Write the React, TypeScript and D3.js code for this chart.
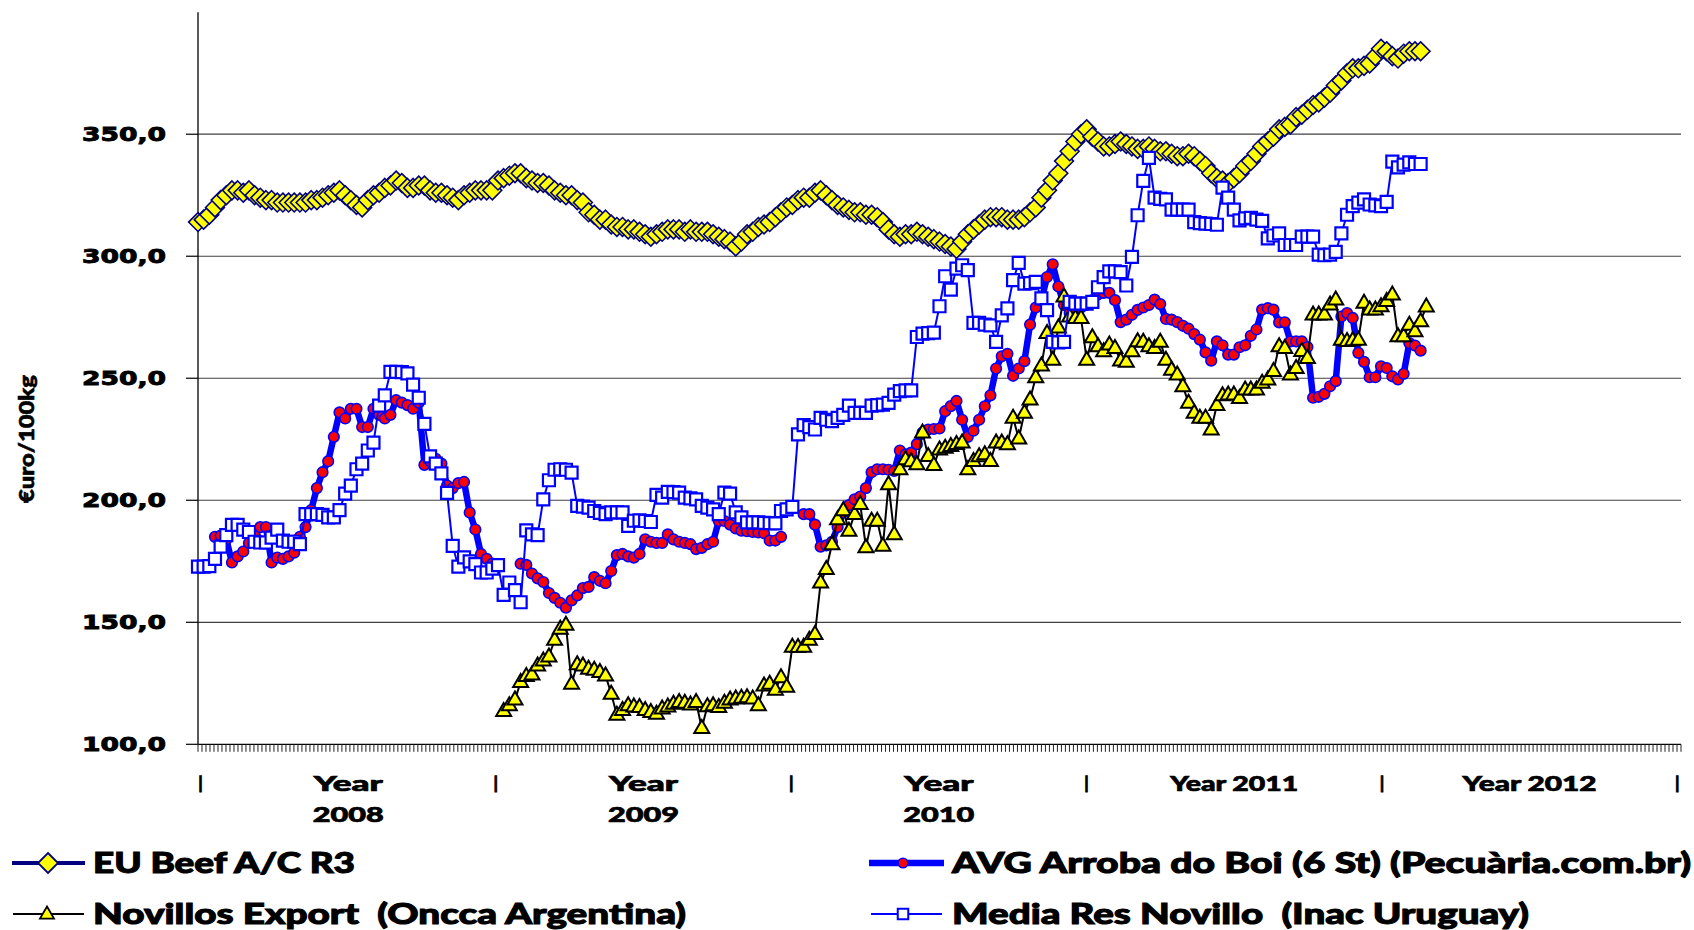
import React from "react";
import * as d3 from "d3";

const WIDTH = 1694;
const HEIGHT = 930;

// ---- axis texts ----
const yTickValues = [100, 150, 200, 250, 300, 350];
const yTickLabels = ["100,0", "150,0", "200,0", "250,0", "300,0", "350,0"];
const yAxisTitle = "€uro/100kg";
const weeksPerYear = 52.18;
const yearLabelLines = [["Year", "2008"], ["Year", "2009"], ["Year", "2010"], ["Year 2011"], ["Year 2012"]];

// ---- series names ----
const seriesNames = [
  "EU Beef A/C R3",
  "AVG Arroba do Boi (6 St) (Pecuària.com.br)",
  "Novillos Export  (Oncca Argentina)",
  "Media Res Novillo  (Inac Uruguay)",
];

// ---- data: weekly values, index 0 = first week of 2008 ----
const euStart = 0;
const euBeef = [
  314, 315, 317, 320, 323, 325, 327, 327, 326, 327,
  325, 324, 323, 323, 322, 322, 322, 322, 322, 322,
  323, 323, 324, 325, 326, 327, 325, 323, 321, 320,
  323, 325, 326, 328, 329, 331, 330, 328, 328, 329,
  329, 327, 326, 326, 325, 324, 323, 325, 326, 327,
  327, 327, 327, 331, 332, 333, 334, 334, 332, 331,
  330, 330, 329, 327, 326, 325, 325, 323, 322, 318,
  317, 315, 315, 313, 312, 312, 311, 311, 310, 309,
  308, 309, 310, 311, 311, 311, 310, 311, 310, 310,
  310, 309, 308, 307, 306, 304, 306, 309, 310, 312,
  313, 314, 316, 318, 320, 321, 323, 324, 324, 326,
  327, 325, 323, 321, 320, 319, 318, 318, 317, 317,
  316, 314, 311, 309, 308, 309, 309, 310, 309, 308,
  307, 306, 305, 304, 303, 306, 309, 311, 313, 315,
  316, 316, 316, 315, 315, 315, 316, 318, 320, 324,
  327, 331, 334, 339, 343, 347, 350, 352, 349, 347,
  345, 345, 346, 347, 346, 345, 344, 344, 345, 344,
  343, 343, 342, 341, 341, 342, 341, 339, 337, 334,
  332, 331, 330, 332, 334, 337, 339, 342, 345, 347,
  349, 352, 353, 354, 357, 358, 360, 362, 363, 365,
  367, 370, 372, 375, 377, 377, 378, 379, 382, 385,
  384, 382, 381, 383, 384, 384, 384,
];

const avgStart = 3;
const avgBoi: (number | null)[] = [
  185, 185.5, 184, 174.5, 177, 179, 182.5,
  186, 189, 189, 174.5, 176.5, 176, 177, 178.5, 185, 189,
  196, 205, 211.5, 216, 226, 236, 233.5, 237.5, 237.5, 230,
  230, 237.5, 235, 233.5, 235, 241, 240, 239, 237.5, 240,
  214.5, 216, 217, 215, 206, 205, 207, 207.5, 195, 188,
  178, 176, 174,
  null, null, null, null,
  174, 173.5, 170,
  168, 166.5, 162, 160, 158, 156, 159, 161, 164, 164.5,
  168.5, 167, 166, 171, 177.5, 178, 177, 176.5, 178, 184,
  183, 182.5, 182.5, 186, 184, 183, 182.5, 182, 180, 180.5,
  182, 183, 191.5, 191.5, 190, 188.5, 187.5, 187.3, 187, 186.8,
  186.5, 183.5, 183.5, 185,
  null, null, null,
  194.3, 194.3, 190,
  181, 181.5, 183, 189, 195, 198, 200.4, 201.5, 205, 211.5,
  212.7, 212.7, 212.5, 212, 220.4, 218.8, 219.5, 223, 227.7, 229,
  229.2, 229.4, 236.5, 238.6, 240.7, 233, 226, 228.5, 233, 238.5,
  243, 254, 259, 260, 251, 254, 257, 272, 279, 282,
  291.5, 296.7, 287.6, 280, 276.7, 277.5, 279, 280.2, 282, 284.3,
  285, 285, 282, 273, 274, 276, 278, 279, 280, 282.2,
  280.4, 274.3, 274, 273, 271.5, 270.3, 268.1, 265.8, 260.6, 257.2,
  265.1, 263.5, 259.7, 259.7, 262.7, 263.5, 267.4, 270, 278.1, 278.7,
  278.1, 272.9, 272.9, 265.1, 265.1, 265.1, 262.8, 242, 242.4, 243.6,
  246.7, 248.8, 275.3, 276.7, 274.7, 260.4, 256.7, 250.4, 250.4, 254.9,
  254.2, 250.8, 249.5, 251.8, 264.4, 263.4, 261.3,
];

const novStart = 54;
const novillosArg = [
  113.6, 116, 118.3, 125.5, 128, 128.6,
  132.3, 134.3, 136, 142.8, 147.3, 149, 124.8, 132.8, 132.3, 130.9,
  130.5, 129.6, 128.2, 120.7, 112.1, 114, 116, 115.5, 115.3, 114,
  113.2, 112.5, 114.6, 115.5, 116.6, 117.3, 117, 116.3, 117.3, 106.7,
  115.6, 116, 115.3, 117, 118.3, 118.7, 119, 119.3, 118.7, 116,
  124.1, 124.8, 122.3, 127.5, 123.6, 140, 139.8, 140, 142.8, 145.2,
  166.3, 171.8, 182, 192.2, 195.9, 187.5, 194.3, 198.4, 180.7, 191.6,
  191.6, 181.3, 206.5, 186.1, 212.7, 216.8, 216, 214.7, 227.7, 218.1,
  214.4, 220.8, 221.5, 222.2, 223, 223.6, 212.7, 216.1, 218, 218.8,
  216.1, 223.6, 223.6, 222.9, 233.8, 225.3, 235.8, 241.3, 250.4, 255.2,
  268.5, 257.6, 270.8, 283.5, 275.3, 274.7, 274.7, 257.6, 266.8, 263.1,
  261, 263.8, 262.4, 257.2, 256.7, 261, 265.1, 264.9, 263.1, 262.4,
  264.9, 257.6, 253.5, 251.5, 246.7, 239.9, 235.8, 233.8, 233.8, 229,
  239, 243, 243.3, 243.3, 241.9, 245.4, 245.4, 245.4, 248.1, 249.5,
  252.9, 263.1, 262.4, 251.5, 254.2, 261.1, 258.3, 276.1, 276.1, 276.1,
  280.2, 282.2, 265.8, 265.2, 265.5, 265.8, 280.9, 278.1, 278.1, 279.5,
  281.6, 284.3, 267.2, 267.2, 271.9, 269.2, 273.3, 279.4,
];

const mediaStart = 0;
const mediaRes = [
  172.8, 172.8, 173, 176, 181, 185.7, 189.9, 189.9, 188, 187,
  183, 182.7, 182.7, 184.7, 188, 183.5, 183, 183, 182, 194.3,
  194.3, 194.3, 194, 193, 193, 196, 202.7, 206, 212.7, 215,
  220.4, 223.6, 238.8, 243, 252.6, 252.6, 252.5, 252, 247.4, 242,
  231.3, 218, 215, 211, 203, 181.3, 172.8, 176.6, 175, 173.8,
  170.4, 170.4, 172, 173.4, 161.2, 166.3, 163.2, 158.2, 187.7, 186,
  185.7, 200.4, 208.2, 212.5, 212.7, 212.5, 211.3, 197.7, 197.4, 197,
  195.6, 194.8, 194.3, 195, 195, 195, 189.5, 191.6, 191.8, 191.5,
  191.1, 202.2, 201.1, 203.4, 203.3, 203.1, 201.1, 200.8, 200.4, 197.7,
  197, 196.3, 194.3, 203.1, 202.7, 195, 193, 190.9, 190.9, 190.9,
  190.7, 190.6, 190.5, 195.6, 196.3, 197.3, 227, 230.8, 230, 229,
  233.8, 233, 232.4, 233.8, 235, 238.8, 235.8, 235.8, 235.8, 238.8,
  239, 239.2, 239.9, 243.3, 244.7, 245, 245, 266.9, 268.3, 268.5,
  268.7, 279.5, 291.8, 286.3, 294.9, 296.3, 294.3, 272.7, 272.7, 272,
  271.7, 264.9, 275.8, 278.6, 290.2, 297.3, 288.8, 289, 289.5, 282.7,
  277.9, 264.9, 264.7, 264.9, 281.3, 280.6, 280.6, 280.6, 281.3, 287.3,
  291.4, 293.8, 293.8, 293.5, 288, 299.7, 316.8, 330.9, 340.3, 324,
  323.5, 323.3, 319.1, 319.1, 319.1, 319.1, 314, 313.6, 313.4, 313.2,
  312.9, 328.1, 324, 319.1, 314.7, 315.5, 315.7, 315, 314.5, 307.3,
  308.5, 309.4, 304.6, 304.6, 304.6, 308, 308, 308, 300.7, 300.4,
  300.7, 301.8, 309.4, 317, 320.5, 322, 323.3, 321.2, 320.8, 320.5,
  322.3, 338.8, 336.4, 337.5, 338.5, 337.8, 337.8,
];

// ---- layout ----
const PLOT = { left: 198, right: 1681, top: 12.2, bottom: 744.3 };
const TOTAL_WEEKS = 262;
const LABEL_FONT = "Lato, 'Open Sans', 'DejaVu Sans', sans-serif";
const TICK_FONT = "'DejaVu Sans', Verdana, sans-serif";

type Pt = { i: number; v: number | null };
const toPts = (start: number, vals: (number | null)[]): Pt[] => vals.map((v, k) => ({ i: start + k, v }));

const diamondPath = (r: number) => `M0,${-r}L${r},0L0,${r}L${-r},0Z`;
const trianglePath = (w: number, h: number) => `M0,${-h * 0.62}L${w / 2},${h * 0.38}L${-w / 2},${h * 0.38}Z`;
const squarePath = (s: number) => `M${-s / 2},${-s / 2}h${s}v${s}h${-s}Z`;

export default function App() {
  const x = d3.scaleLinear().domain([0, TOTAL_WEEKS]).range([PLOT.left, PLOT.right]);
  const y = d3.scaleLinear().domain([100, 400]).range([PLOT.bottom, PLOT.top]);

  const line = d3
    .line<Pt>()
    .defined((d) => d.v !== null)
    .x((d) => x(d.i))
    .y((d) => y(d.v as number));

  const eu = toPts(euStart, euBeef);
  const avg = toPts(avgStart, avgBoi);
  const nov = toPts(novStart, novillosArg);
  const med = toPts(mediaStart, mediaRes);

  const nMinor = 371;
  const minorTicks = d3.range(0, nMinor + 1).map((k) => PLOT.left + (k * (PLOT.right - PLOT.left)) / nMinor);

  const yearBounds = d3.range(0, 6).map((k) => x(k * weeksPerYear) + 2.5);
  const yearLabelLen: Record<string, number> = { Year: 69, "2008": 71, "2009": 71, "2010": 71, "Year 2011": 128, "Year 2012": 134 };

  const legendItems = [
    { name: seriesNames[0], lx1: 12, lx2: 85, mx: 48, cy: 863, tx: 93, tl: 262, kind: "eu" },
    { name: seriesNames[1], lx1: 869, lx2: 944, mx: 903, cy: 863, tx: 952, tl: 739, kind: "avg" },
    { name: seriesNames[2], lx1: 13, lx2: 84, mx: 47, cy: 914, tx: 93, tl: 593, kind: "nov" },
    { name: seriesNames[3], lx1: 871, lx2: 942, mx: 903, cy: 914, tx: 952, tl: 577, kind: "med" },
  ];

  const defined = (p: Pt[]) => p.filter((d) => d.v !== null);
  const heavy = { stroke: "#000", strokeWidth: 0.9, paintOrder: "stroke" as const };

  return (
    <svg
      width={WIDTH}
      height={HEIGHT}
      viewBox={`0 0 ${WIDTH} ${HEIGHT}`}
      style={{ position: "absolute", left: 0, top: 0, background: "#fff", display: "block" }}
    >
      <rect x={0} y={0} width={WIDTH} height={HEIGHT} fill="#fff" />
      {/* gridlines */}
      {yTickValues.slice(1).map((v) => (
        <line key={`g${v}`} x1={PLOT.left} x2={PLOT.right} y1={y(v)} y2={y(v)} stroke="#404040" strokeWidth={1.2} />
      ))}
      {/* y axis */}
      <line x1={PLOT.left} x2={PLOT.left} y1={PLOT.top} y2={PLOT.bottom} stroke="#000" strokeWidth={1.3} />
      {yTickValues.map((v, k) => (
        <g key={`yt${v}`}>
          <line x1={PLOT.left - 12} x2={PLOT.left} y1={y(v)} y2={y(v)} stroke="#000" strokeWidth={1.2} />
          <text
            x={82}
            y={y(v) + 7}
            fontFamily={TICK_FONT}
            fontWeight="bold"
            fontSize={19.5}
            textLength={84}
            lengthAdjust="spacingAndGlyphs"
            fill="#000"
            {...heavy}
          >
            {yTickLabels[k]}
          </text>
        </g>
      ))}
      <g transform={`translate(34,503) rotate(-90)`}>
        <text x={0} y={0} fontFamily={LABEL_FONT} fontWeight={900} fontSize={21} textLength={128} lengthAdjust="spacingAndGlyphs" fill="#000" stroke="#000" strokeWidth={0.6}>
          {yAxisTitle}
        </text>
      </g>
      {/* x axis */}
      <line x1={PLOT.left} x2={PLOT.right} y1={PLOT.bottom} y2={PLOT.bottom} stroke="#000" strokeWidth={1.3} />
      {minorTicks.map((tx, k) => (
        <line key={`mt${k}`} x1={tx} x2={tx} y1={PLOT.bottom} y2={PLOT.bottom + 7.5} stroke="#222" strokeWidth={1} />
      ))}
      {yearBounds.map((bx, k) => (
        <text key={`yb${k}`} x={bx} y={789} fontFamily={LABEL_FONT} fontWeight={900} fontSize={17} textAnchor="middle" fill="#000" stroke="#000" strokeWidth={0.8}>
          |
        </text>
      ))}
      {yearLabelLines.map((lines, k) => {
        const cx = (yearBounds[k] + yearBounds[k + 1]) / 2;
        return lines.map((t, j) => {
          const len = yearLabelLen[t] ?? 70;
          return (
            <text
              key={`yl${k}-${j}`}
              x={cx - len / 2}
              y={791 + j * 31}
              fontFamily={LABEL_FONT}
              fontWeight={900}
              fontSize={21}
              textLength={len}
              lengthAdjust="spacingAndGlyphs"
              fill="#000"
              stroke="#000"
              strokeWidth={0.7}
            >
              {t}
            </text>
          );
        });
      })}

      {/* EU Beef */}
      <path d={line(eu) || ""} fill="none" stroke="#000080" strokeWidth={2.5} />
      {defined(eu).map((d) => (
        <path key={`eu${d.i}`} d={diamondPath(9.4)} transform={`translate(${x(d.i)},${y(d.v as number)})`} fill="#FFFF00" stroke="#000080" strokeWidth={1.6} />
      ))}

      {/* AVG Arroba do Boi */}
      <path d={line(avg) || ""} fill="none" stroke="#0000FF" strokeWidth={6.5} strokeLinejoin="round" />
      {defined(avg).map((d) => (
        <circle key={`avg${d.i}`} cx={x(d.i)} cy={y(d.v as number)} r={5.3} fill="#FF0000" stroke="#0000FF" strokeWidth={1.6} />
      ))}

      {/* Novillos Export */}
      <path d={line(nov) || ""} fill="none" stroke="#000000" strokeWidth={2} />
      {defined(nov).map((d) => (
        <path key={`nov${d.i}`} d={trianglePath(15, 13)} transform={`translate(${x(d.i)},${y(d.v as number)})`} fill="#FFFF00" stroke="#000000" strokeWidth={2} strokeLinejoin="miter" />
      ))}

      {/* Media Res Novillo */}
      <path d={line(med) || ""} fill="none" stroke="#0000FF" strokeWidth={2} />
      {defined(med).map((d) => (
        <path key={`med${d.i}`} d={squarePath(12)} transform={`translate(${x(d.i)},${y(d.v as number)})`} fill="#FFFFFF" stroke="#0000FF" strokeWidth={2.2} />
      ))}

      {/* legend */}
      {legendItems.map((it) => (
        <g key={it.name}>
          {it.kind === "eu" && (
            <>
              <line x1={it.lx1} x2={it.lx2} y1={it.cy} y2={it.cy} stroke="#000080" strokeWidth={4} />
              <path d={diamondPath(10)} transform={`translate(${it.mx},${it.cy})`} fill="#FFFF00" stroke="#000080" strokeWidth={1.8} />
            </>
          )}
          {it.kind === "avg" && (
            <>
              <line x1={it.lx1} x2={it.lx2} y1={it.cy} y2={it.cy} stroke="#0000FF" strokeWidth={6.5} />
              <circle cx={it.mx} cy={it.cy} r={4.8} fill="#FF0000" stroke="#0000FF" strokeWidth={1.5} />
            </>
          )}
          {it.kind === "nov" && (
            <>
              <line x1={it.lx1} x2={it.lx2} y1={it.cy} y2={it.cy} stroke="#000" strokeWidth={2} />
              <path d={trianglePath(14, 12)} transform={`translate(${it.mx},${it.cy})`} fill="#FFFF00" stroke="#000" strokeWidth={1.8} />
            </>
          )}
          {it.kind === "med" && (
            <>
              <line x1={it.lx1} x2={it.lx2} y1={it.cy} y2={it.cy} stroke="#0000FF" strokeWidth={2} />
              <path d={squarePath(10.5)} transform={`translate(${it.mx},${it.cy})`} fill="#FFFFFF" stroke="#0000FF" strokeWidth={2} />
            </>
          )}
          <text
            x={it.tx}
            y={it.cy + 10}
            fontFamily={LABEL_FONT}
            fontWeight={900}
            fontSize={28}
            textLength={it.tl}
            lengthAdjust="spacingAndGlyphs"
            fill="#000"
            stroke="#000"
            strokeWidth={1}
            style={{ whiteSpace: "pre" }}
          >
            {it.name}
          </text>
        </g>
      ))}
    </svg>
  );
}
